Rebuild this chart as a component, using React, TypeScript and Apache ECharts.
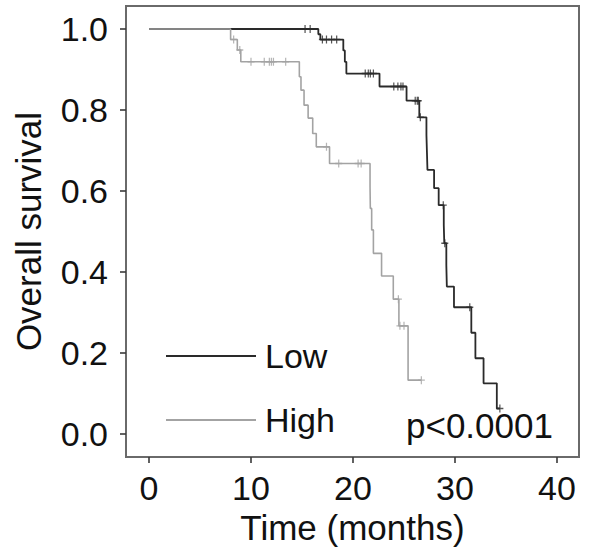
import React, { useEffect, useRef } from "react";
import * as echarts from "echarts";

// Kaplan-Meier steps: [time (months), survival after event]
const lowSteps: [number, number][] = [
  [0, 1.0], [16.6, 0.987], [16.8, 0.974], [19.05, 0.947], [19.2, 0.919], [19.35, 0.89],
  [22.6, 0.858], [25.25, 0.823], [26.5, 0.782], [27.2, 0.738], [27.25, 0.695], [27.3, 0.652],
  [27.95, 0.607], [28.4, 0.565], [28.9, 0.516], [28.95, 0.471], [29.15, 0.417], [29.2, 0.364],
  [29.9, 0.313], [31.6, 0.25], [32.0, 0.187], [32.8, 0.125], [34.1, 0.063], [34.4, 0.063],
];
const lowCensors: number[] = [
  15.3, 15.8, 17.0, 17.4, 17.9, 18.4, 21.2, 21.5, 21.7, 22.0, 24.0, 24.4, 24.7, 24.9,
  26.1, 26.3, 26.4, 26.6, 28.85, 29.0, 31.45, 34.4,
];
const highSteps: [number, number][] = [
  [0, 1.0], [8.0, 0.974], [8.66, 0.948], [9.0, 0.919], [14.74, 0.882], [14.9, 0.849],
  [15.2, 0.812], [15.6, 0.78], [16.05, 0.742], [16.4, 0.709], [17.7, 0.668], [21.67, 0.612],
  [21.7, 0.557], [21.83, 0.504], [22.0, 0.446], [22.8, 0.39], [23.95, 0.333], [24.5, 0.267],
  [25.4, 0.133], [26.7, 0.133],
];
const highCensors: number[] = [
  8.3, 8.9, 10.0, 11.3, 11.8, 12.0, 12.2, 13.4, 17.4, 18.6, 20.5, 20.8, 24.45, 24.6, 25.0, 26.7,
];

const xTicks = [0, 10, 20, 30, 40];
const yTicks = [0, 0.2, 0.4, 0.6, 0.8, 1.0];
const groupNames = ["Low", "High"];
const pValueText = "p<0.0001";

const survAt = (steps: [number, number][], t: number) => {
  let s = 1;
  for (const [x, y] of steps) {
    if (x <= t) s = y;
  }
  return s;
};

const FONT = "'Liberation Sans', Arial, Helvetica, sans-serif";
const LOW_COLOR = "#2a2a2a";
const HIGH_COLOR = "#a3a3a3";
const BOX_COLOR = "#6a6a6a";
const TICK_COLOR = "#3a3a3a";
const plus = "path://M4,0V8M0,4H8";

export default function App() {
  const ref = useRef<HTMLDivElement>(null);
  useEffect(() => {
    if (!ref.current) return;
    const chart = echarts.init(ref.current, null, { renderer: "svg" });
    const censorSeries = (name: string, times: number[], steps: [number, number][], color: string) => ({
      type: "scatter",
      name,
      data: times.map((t) => [t, survAt(steps, t)]),
      symbol: plus,
      symbolSize: [7, 8],
      itemStyle: { color: "none", borderColor: color, borderWidth: 1.3 },
      silent: true,
      z: 3,
    });
    chart.setOption({
      animation: false,
      grid: {
        left: 126, right: 21, top: 6, bottom: 93,
        show: true, borderColor: BOX_COLOR, borderWidth: 2,
        outerBoundsMode: "none",
      },
      legend: {
        data: groupNames,
        orient: "vertical",
        left: 166,
        top: 336,
        icon: "rect",
        itemWidth: 90,
        itemHeight: 2,
        itemGap: 24,
        padding: 0,
        textStyle: { fontSize: 34, fontFamily: FONT, color: "#111", lineHeight: 40, padding: [0, 0, 0, 4] },
      },
      xAxis: {
        type: "value",
        min: -2.255,
        max: 42.157,
        splitLine: { show: false },
        axisLine: { show: true, onZero: false, lineStyle: { color: BOX_COLOR, width: 2 } },
        axisTick: { show: true, inside: false, customValues: xTicks, length: 6, lineStyle: { color: TICK_COLOR, width: 1.6 } },
        axisLabel: { customValues: xTicks, fontSize: 34, fontFamily: FONT, color: "#111", margin: 14 },
        name: "Time (months)",
        nameLocation: "middle",
        nameGap: 52,
        nameTextStyle: { fontSize: 35, fontFamily: FONT, color: "#111", verticalAlign: "top" },
      },
      yAxis: {
        type: "value",
        min: -0.0568,
        max: 1.0568,
        splitLine: { show: false },
        axisLine: { show: true, onZero: false, lineStyle: { color: BOX_COLOR, width: 2 } },
        axisTick: { show: true, inside: false, customValues: yTicks, length: 6, lineStyle: { color: TICK_COLOR, width: 1.6 } },
        axisLabel: {
          customValues: yTicks,
          fontSize: 34, fontFamily: FONT, color: "#111", margin: 18,
          formatter: (v: number) => v.toFixed(1),
        },
        name: "Overall survival",
        nameLocation: "middle",
        nameGap: 80,
        nameRotate: 90,
        nameTextStyle: { fontSize: 35, fontFamily: FONT, color: "#111" },
      },
      graphic: [
        {
          type: "text",
          left: 406,
          top: 408,
          style: { text: pValueText, fontSize: 35, fontFamily: FONT, fill: "#111" },
        },
      ],
      series: [
        {
          type: "line",
          name: "Low",
          data: lowSteps,
          step: "end",
          showSymbol: false,
          itemStyle: { color: LOW_COLOR },
          lineStyle: { color: LOW_COLOR, width: 1.8 },
          z: 2,
        },
        censorSeries("Low", lowCensors, lowSteps, LOW_COLOR),
        {
          type: "line",
          name: "High",
          data: highSteps,
          step: "end",
          showSymbol: false,
          itemStyle: { color: HIGH_COLOR },
          lineStyle: { color: HIGH_COLOR, width: 1.6 },
          z: 4,
        },
        censorSeries("High", highCensors, highSteps, HIGH_COLOR),
      ],
    });
    return () => chart.dispose();
  }, []);
  return (
    <div
      ref={ref}
      style={{ position: "fixed", left: 0, top: 0, width: 600, height: 550, background: "#fff" }}
    />
  );
}
